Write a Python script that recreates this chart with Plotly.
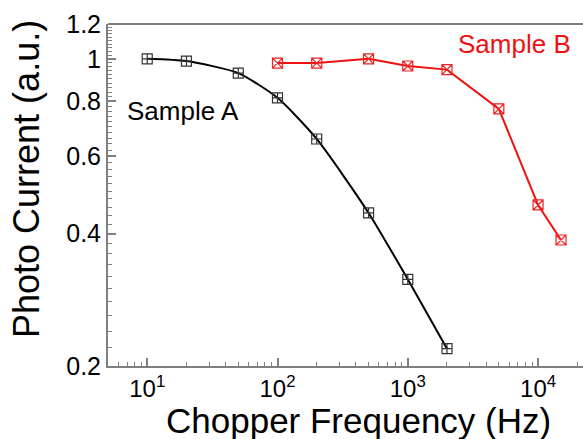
import numpy as np
import plotly.graph_objects as go

freq_a = [10, 20, 50, 100, 200, 500, 1000, 2000]
curr_a = [1.0, 0.988, 0.928, 0.815, 0.657, 0.446, 0.315, 0.219]
freq_b = [100, 200, 500, 1000, 2000, 5000, 10000, 15000]
curr_b = [0.978, 0.978, 1.0, 0.963, 0.945, 0.769, 0.465, 0.387]

y_ticks = [0.2, 0.4, 0.6, 0.8, 1, 1.2]
y_ticktext = ["0.2", "0.4", "0.6", "0.8", "1", "1.2"]
x_ticks = [10, 100, 1000, 10000]
x_ticktext = ["10<sup>1</sup>", "10<sup>2</sup>", "10<sup>3</sup>", "10<sup>4</sup>"]

FONT = "Liberation Sans, Arial, sans-serif"
AX = "#7f7f7f"
L, R, T, B, W, H = 108, 0, 24, 73, 583, 439
PW, PH = W - L - R, H - T - B

fig = go.Figure()
fig.add_trace(go.Scatter(
    x=freq_a, y=curr_a, mode="lines+markers",
    line=dict(color="black", width=2, shape="spline", smoothing=0.6),
    marker=dict(symbol="square-cross-open", size=10, color="#333333", line=dict(width=1.2)),
    showlegend=False))
fig.add_trace(go.Scatter(
    x=freq_b, y=curr_b, mode="lines+markers",
    line=dict(color="#ee1111", width=2),
    marker=dict(symbol="square-x-open", size=10, color="#ee2222", line=dict(width=1.2)),
    showlegend=False))

x_minor = [m * 10 ** d for d in range(0, 5) for m in range(2, 10)]
y_minor = [round(v, 2) for v in np.arange(0.2, 1.21, 0.02)]

fig.update_xaxes(
    type="log", range=[np.log10(5), 4.345],
    tickvals=x_ticks, ticktext=x_ticktext,
    ticks="inside", ticklen=8, tickwidth=1.5, tickcolor=AX,
    showline=True, linecolor=AX, linewidth=2, showgrid=False, zeroline=False,
    tickfont=dict(family=FONT, size=24, color="black"),
    minor=dict(tickvals=x_minor, ticks="inside", ticklen=4, tickcolor=AX, tickwidth=1, showgrid=False))
fig.update_yaxes(
    type="log", range=[np.log10(0.2), np.log10(1.2)],
    tickvals=y_ticks, ticktext=y_ticktext,
    ticks="inside", ticklen=8, tickwidth=1.5, tickcolor=AX,
    showline=True, linecolor=AX, linewidth=2, showgrid=False, zeroline=False,
    tickfont=dict(family=FONT, size=25, color="black"),
    minor=dict(tickvals=y_minor, ticks="inside", ticklen=4, tickcolor=AX, tickwidth=1, showgrid=False))

fig.add_shape(type="line", xref="paper", yref="paper", x0=0, x1=1, y0=1, y1=1,
              line=dict(color=AX, width=2))


def px(x):
    return (x - L) / PW


def py(y):
    return (H - B - y) / PH


fig.update_layout(
    width=W, height=H,
    margin=dict(l=L, r=R, t=T, b=B, autoexpand=False),
    plot_bgcolor="white", paper_bgcolor="white",
    annotations=[
        dict(text="Sample A", x=px(125), y=py(111), xref="paper", yref="paper",
             xanchor="left", yanchor="middle", showarrow=False,
             font=dict(family=FONT, size=26, color="black")),
        dict(text="Sample B", x=px(573), y=py(44), xref="paper", yref="paper",
             xanchor="right", yanchor="middle", showarrow=False,
             font=dict(family=FONT, size=26, color="#ee1111")),
        dict(text="Chopper Frequency (Hz)", x=px(358), y=py(420), xref="paper", yref="paper",
             xanchor="center", yanchor="middle",
             showarrow=False, font=dict(family=FONT, size=35, color="black")),
        dict(text="Photo Current (a.u.)", x=px(26), y=py(179), xref="paper", yref="paper",
             xanchor="center", yanchor="middle",
             textangle=-90, showarrow=False, font=dict(family=FONT, size=36, color="black")),
    ],
)

fig.write_html("out.html", config={"displayModeBar": False},
               post_script="document.body.style.margin='0';")
